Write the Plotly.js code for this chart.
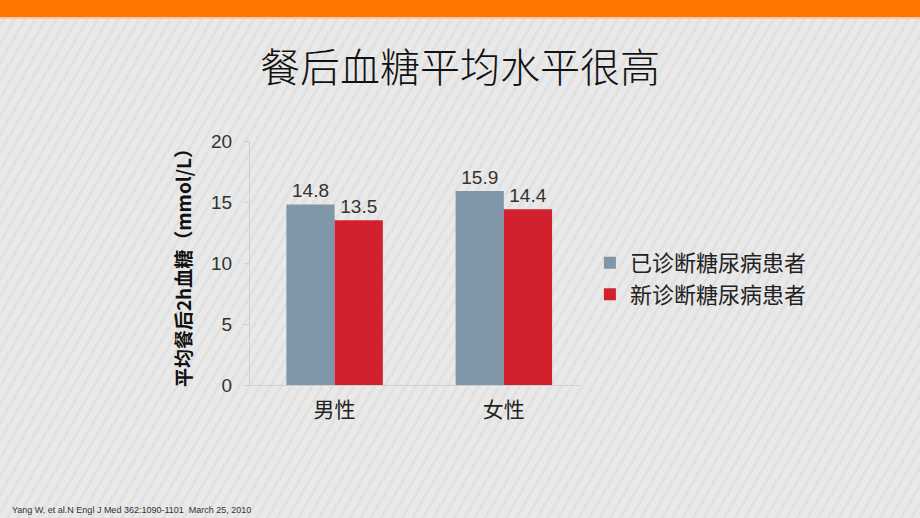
<!DOCTYPE html>
<html><head><meta charset="utf-8">
<script src="https://cdn.plot.ly/plotly-3.0.1.min.js"></script>
<style>
html,body{margin:0;padding:0;}
body{width:920px;height:518px;overflow:hidden;
background:repeating-linear-gradient(-60deg,#e9e9e9 0px,#e9e9e9 6px,#e1e1e1 6px,#e1e1e1 9px);}
#bar{position:absolute;left:0;top:0;width:920px;height:17px;background:#ff7700;border-bottom:2px solid #f3c9a8;}
#chart{position:absolute;left:0;top:0;width:920px;height:518px;}
</style></head>
<body><div id="bar"></div><div id="chart"></div>
<script>
const categories = ['男性', '女性'];
const diagnosed = [14.8, 15.9];
const newlyDiagnosed = [13.5, 14.4];
const seriesNames = ['已诊断糖尿病患者', '新诊断糖尿病患者'];
const yTicks = [0, 5, 10, 15, 20];

const font = 'Arial, "Liberation Sans", "Noto Sans CJK SC", sans-serif';
const cjk = '"Noto Sans CJK SC", sans-serif';
const traces = [
  {type:'bar', x:categories, y:diagnosed, name:seriesNames[0], marker:{color:'#7f97a8'},
   text:diagnosed.map(v=>v.toFixed(1)), textposition:'outside', cliponaxis:false,
   textfont:{size:19, color:'#333', family:font}},
  {type:'bar', x:categories, y:newlyDiagnosed, name:seriesNames[1], marker:{color:'#d2202d'},
   text:newlyDiagnosed.map(v=>v.toFixed(1)), textposition:'outside', cliponaxis:false,
   textfont:{size:19, color:'#333', family:font}}
];
const layout = {
  width:920, height:518,
  paper_bgcolor:'rgba(0,0,0,0)', plot_bgcolor:'rgba(0,0,0,0)',
  margin:{l:250, r:340, t:141, b:133},
  barmode:'group', bargap:0.43, bargroupgap:0,
  font:{family:font, color:'#333'},
  title:{text:'餐后血糖平均水平很高', x:0.5, xref:'container', y:1-68/518, yref:'container', yanchor:'middle',
    font:{size:40, color:'#111', family:cjk, weight:300}},
  xaxis:{type:'category', range:[-0.5, 1.45], showline:true, linecolor:'#cfcfcf', linewidth:1,
    ticks:'', tickfont:{size:21, color:'#222', family:cjk}, ticklabelstandoff:6},
  yaxis:{range:[0,20], tickvals:yTicks, showgrid:false, zeroline:false, showline:true, linecolor:'#cfcfcf',
    ticks:'outside', ticklen:5, tickcolor:'#cfcfcf', tickfont:{size:19, color:'#333', family:font},
    ticklabelstandoff:8,
    title:{text:'平均餐后2h血糖（mmol/L）', standoff:14, font:{size:19, color:'#111', family:cjk, weight:'bold'}}},
  legend:{x:1.03, xanchor:'left', y:0.435, yanchor:'middle', font:{size:22, color:'#222', family:cjk},
    bgcolor:'rgba(0,0,0,0)', itemwidth:30, tracegroupgap:0},
  annotations:[{text:'Yang W, et al.N Engl J Med 362:1090-1101  March 25, 2010', xref:'paper', yref:'paper',
    x:(10-250)/330, y:(385-510)/244, xanchor:'left', yanchor:'middle', showarrow:false,
    font:{size:9, color:'#333', family:font}}]
};
Plotly.newPlot('chart', traces, layout, {displayModeBar:false, staticPlot:true});
</script></body></html>
